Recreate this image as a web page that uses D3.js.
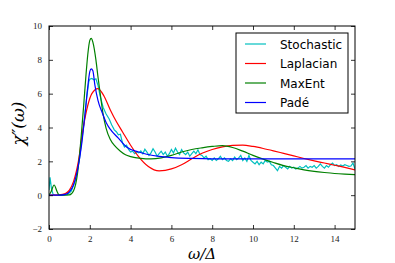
<!DOCTYPE html>
<html>
<head>
<meta charset="utf-8">
<script src="https://cdn.jsdelivr.net/npm/d3@7"></script>
<style>
  body { margin: 0; background: #fff; }
  svg { display: block; }
</style>
</head>
<body>
<div id="chart"></div>
<script>
// ---- data ----
const xTicks = [0, 2, 4, 6, 8, 10, 12, 14];
const yTicks = [-2, 0, 2, 4, 6, 8, 10];
const seriesNames = ["Stochastic", "Laplacian", "MaxEnt", "Padé"];
const seriesColors = ["#00bfbf", "#ff0000", "#008000", "#0000ff"];

const stochOmega = [0, 0.05, 0.12, 0.2, 0.3, 0.6, 0.9, 1.1, 1.3, 1.5, 1.7, 1.85, 1.95, 2.0, 2.1, 2.2, 2.3, 2.4, 2.5, 2.65, 2.8, 2.95, 3.07, 3.2, 3.3, 3.4, 3.5,
  3.6, 3.7, 3.8, 3.9, 4.0, 4.1, 4.2, 4.3, 4.4, 4.5, 4.6, 4.7, 4.8, 4.9, 5.0, 5.1, 5.2, 5.3, 5.4, 5.5, 5.6, 5.7, 5.8, 5.9,
  6.0, 6.1, 6.2, 6.3, 6.4, 6.5, 6.6, 6.7, 6.8, 6.9, 7.0, 7.1, 7.2, 7.3, 7.4, 7.5, 7.6, 7.7, 7.8, 7.9,
  8.0, 8.1, 8.2, 8.3, 8.4, 8.5, 8.6, 8.7, 8.8, 8.9, 9.0, 9.1, 9.2, 9.3, 9.4, 9.5, 9.6, 9.7, 9.8, 9.9,
  10.0, 10.1, 10.2, 10.3, 10.4, 10.5, 10.6, 10.7, 10.8, 10.9, 11.0, 11.1, 11.2, 11.3, 11.4, 11.5, 11.6, 11.7, 11.8, 11.9,
  12.0, 12.1, 12.2, 12.3, 12.4, 12.5, 12.6, 12.7, 12.8, 12.9, 13.0, 13.1, 13.2, 13.3, 13.4, 13.5, 13.6, 13.7, 13.8, 13.9,
  14.0, 14.1, 14.2, 14.3, 14.4, 14.5, 14.6, 14.7, 14.8, 14.9, 15.0];
const stochChi = [0.3, 1.05, 0.4, 0.05, 0, 0, 0.03, 0.25, 0.9, 2.2, 4.1, 5.8, 6.7, 6.85, 6.9, 6.82, 6.88, 6.5, 5.9, 5.2, 4.8, 4.5, 4.16, 3.86, 3.75, 3.57, 3.6,
  3.1, 2.85, 2.95, 2.7, 2.55, 2.6, 2.45, 2.55, 2.5, 2.62, 2.45, 2.72, 2.55, 2.35, 2.5, 2.75, 2.55, 2.3, 2.45, 2.6, 2.4, 2.55, 2.3, 2.45,
  2.7, 2.5, 2.78, 2.55, 2.4, 2.7, 2.5, 2.4, 2.55, 2.3, 2.45, 2.6, 2.45, 2.68, 2.4, 2.35, 2.2, 2.3, 2.1, 2.15,
  2.05, 2.2, 2.05, 2.15, 2.3, 2.1, 2.2, 2.05, 2.0, 2.15, 2.05, 2.25, 2.1, 2.2, 2.35, 2.05, 2.2, 2.0, 2.35, 2.05,
  1.95, 1.85, 2.0, 1.8, 1.95, 1.85, 2.05, 1.95, 2.0, 1.8, 1.75, 1.6, 1.45, 1.7, 1.6, 1.75, 1.65, 1.55, 1.7, 1.6,
  1.65, 1.55, 1.6, 1.7, 1.6, 1.65, 1.75, 1.6, 1.7, 1.65, 1.75, 1.6, 1.7, 1.85, 1.7, 1.6, 1.75, 1.65, 1.8, 1.9,
  1.75, 1.8, 1.7, 1.78, 1.72, 1.8, 1.75, 1.7, 1.72, 1.9, 1.55];

const lapOmega = [0, 0.5, 0.8, 1.0, 1.2, 1.44, 1.68, 1.9, 2.1, 2.4, 2.7, 3.0, 3.3, 3.6, 4.0, 4.38, 4.87, 5.4, 6.0, 6.5, 7.0, 7.5, 8.0, 8.5, 9.0, 9.5, 10.0, 10.5, 11.0, 11.5, 12.0, 12.5, 13.0, 13.5, 14.0, 14.5, 15.0];
const lapChi = [0, 0.02, 0.1, 0.3, 0.8, 2.0, 4.0, 5.3, 6.0, 6.3, 5.85, 5.05, 4.35, 3.75, 2.95, 2.3, 1.7, 1.44, 1.55, 1.8, 2.15, 2.48, 2.7, 2.85, 2.94, 2.96, 2.88, 2.76, 2.62, 2.47, 2.32, 2.17, 2.03, 1.9, 1.77, 1.64, 1.5];

const maxOmega = [0, 0.1, 0.25, 0.4, 0.5, 1.0, 1.2, 1.4, 1.5, 1.6, 1.7, 1.8, 1.9, 2.0, 2.07, 2.15, 2.3, 2.4, 2.5, 2.65, 2.8, 3.0, 3.25, 3.5, 3.75, 4.0, 4.5, 5.0, 5.5, 6.0, 6.5, 7.0, 7.5, 8.0, 8.5, 9.0, 9.5, 10.0, 10.5, 11.0, 11.5, 12.0, 12.5, 13.0, 13.5, 14.0, 14.5, 15.0];
const maxChi = [0, 0.2, 0.6, 0.2, 0, 0.02, 0.25, 1.3, 2.4, 3.8, 5.3, 6.9, 8.3, 9.15, 9.27, 9.05, 8.0, 7.0, 6.1, 4.8, 3.95, 3.3, 2.88, 2.6, 2.39, 2.28, 2.17, 2.14, 2.2, 2.35, 2.55, 2.7, 2.8, 2.88, 2.93, 2.82, 2.6, 2.35, 2.13, 1.93, 1.75, 1.62, 1.5, 1.41, 1.34, 1.28, 1.24, 1.21];

const padeOmega = [0, 0.5, 0.8, 1.0, 1.2, 1.4, 1.6, 1.8, 1.9, 2.0, 2.07, 2.15, 2.25, 2.4, 2.6, 2.8, 3.0, 3.4, 3.8, 4.4, 5.4, 6.0, 7.0, 8.0, 10.0, 12.0, 15.0];
const padeChi = [0, 0, 0.05, 0.2, 0.6, 1.5, 3.0, 5.2, 6.4, 7.3, 7.47, 7.35, 6.5, 5.6, 4.9, 4.3, 3.9, 3.37, 2.85, 2.55, 2.29, 2.22, 2.17, 2.15, 2.15, 2.15, 2.15];

// ---- layout ----
const W = 395, H = 263;
const margin = { top: 26, right: 40, bottom: 34, left: 49 };
const width = W - margin.left - margin.right;
const height = H - margin.top - margin.bottom;

const svg = d3.select("#chart").append("svg")
  .attr("width", W).attr("height", H);

const g = svg.append("g")
  .attr("transform", `translate(${margin.left}, ${margin.top})`);

const xScale = d3.scaleLinear().domain([0, 15]).range([0, width]);
const yScale = d3.scaleLinear().domain([-2, 10]).range([height, 0]);

g.append("clipPath").attr("id", "plotClip")
  .append("rect").attr("width", width).attr("height", height);

const series = [
  { name: seriesNames[0], color: seriesColors[0], xs: stochOmega, ys: stochChi, curve: d3.curveLinear },
  { name: seriesNames[1], color: seriesColors[1], xs: lapOmega, ys: lapChi, curve: d3.curveMonotoneX },
  { name: seriesNames[2], color: seriesColors[2], xs: maxOmega, ys: maxChi, curve: d3.curveMonotoneX },
  { name: seriesNames[3], color: seriesColors[3], xs: padeOmega, ys: padeChi, curve: d3.curveMonotoneX }
];

const lines = g.append("g").attr("clip-path", "url(#plotClip)");
series.forEach((s) => {
  const pts = s.xs.map((x, i) => [x, s.ys[i]]);
  const line = d3.line()
    .x((d) => xScale(d[0]))
    .y((d) => yScale(d[1]))
    .curve(s.curve);
  lines.append("path")
    .attr("d", line(pts))
    .attr("fill", "none")
    .attr("stroke", s.color)
    .attr("stroke-width", 1.2);
});

// axes: inward ticks on all four sides, like matplotlib classic
const tickFont = "'Liberation Serif', 'DejaVu Serif', serif";
const xAxisB = d3.axisBottom(xScale).tickValues(xTicks).tickSizeInner(-4).tickSizeOuter(0).tickPadding(7);
const xAxisT = d3.axisTop(xScale).tickValues(xTicks).tickSizeInner(-4).tickSizeOuter(0).tickFormat("");
const yAxisL = d3.axisLeft(yScale).tickValues(yTicks).tickSizeInner(-4).tickSizeOuter(0).tickPadding(7)
  .tickFormat((d) => d < 0 ? "\u2212" + Math.abs(d) : d);
const yAxisR = d3.axisRight(yScale).tickValues(yTicks).tickSizeInner(-4).tickSizeOuter(0).tickFormat("");

g.append("g").attr("transform", `translate(0, ${height})`).call(xAxisB);
g.append("g").call(xAxisT);
g.append("g").call(yAxisL);
g.append("g").attr("transform", `translate(${width}, 0)`).call(yAxisR);

g.selectAll(".domain").remove();
g.selectAll(".tick line").attr("stroke", "#000").attr("stroke-width", 0.8);
g.selectAll(".tick text")
  .style("font-family", tickFont)
  .style("font-size", "9px")
  .attr("fill", "#222");

g.append("rect")
  .attr("width", width).attr("height", height)
  .attr("fill", "none").attr("stroke", "#000").attr("stroke-width", 1);

// axis labels
svg.append("text")
  .attr("x", margin.left + width / 2)
  .attr("y", 259)
  .attr("text-anchor", "middle")
  .style("font-family", "'DejaVu Serif', serif")
  .style("font-style", "italic")
  .style("font-size", "15px")
  .text("ω/Δ");

svg.append("text")
  .attr("transform", `translate(24, ${margin.top + height / 2 - 4}) rotate(-90)`)
  .attr("text-anchor", "middle")
  .style("font-family", "'DejaVu Serif', serif")
  .style("font-style", "italic")
  .style("font-size", "17px")
  .text("χ″(ω)");

// legend
const legend = svg.append("g").attr("transform", "translate(236, 33)");
legend.append("rect")
  .attr("width", 112).attr("height", 80)
  .attr("fill", "#fff").attr("stroke", "#000").attr("stroke-width", 1);

const items = legend.selectAll(".legend-item")
  .data(series)
  .join("g")
  .attr("class", "legend-item")
  .attr("transform", (d, i) => `translate(0, ${11 + i * 19.5})`);

items.append("line")
  .attr("x1", 9).attr("x2", 30)
  .attr("stroke", (d) => d.color)
  .attr("stroke-width", 1.2);

items.append("text")
  .attr("x", 44)
  .attr("y", 4.5)
  .style("font-family", "'DejaVu Sans', sans-serif")
  .style("font-size", "12px")
  .text((d) => d.name);
</script>
</body>
</html>
